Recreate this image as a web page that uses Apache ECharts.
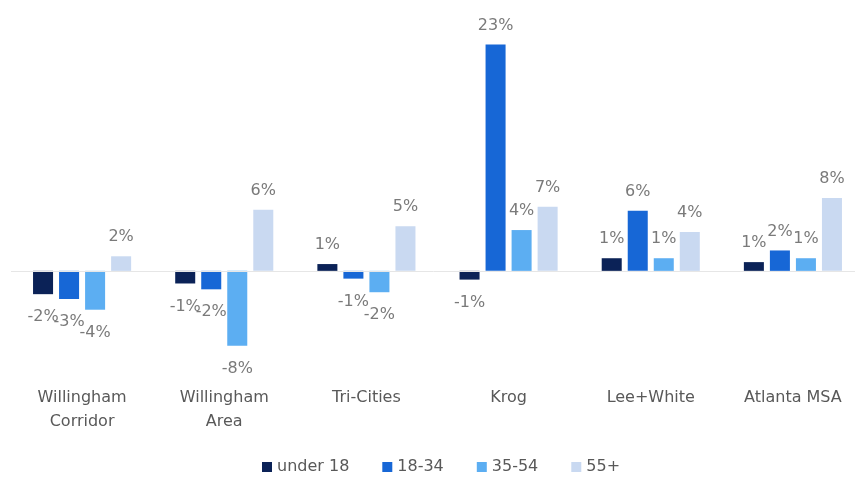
<!DOCTYPE html>
<html>
<head>
<meta charset="utf-8">
<script src="https://cdn.jsdelivr.net/npm/echarts@6/dist/echarts.min.js"></script>
<style>
  html, body { margin: 0; padding: 0; background: #fff; overflow: hidden; }
  #chart { width: 855px; height: 491px; }
</style>
</head>
<body>
<div id="chart"></div>
<script>
// areas along the x axis
const areas = ['Willingham\nCorridor', 'Willingham\nArea', 'Tri-Cities', 'Krog', 'Lee+White', 'Atlanta MSA']

// change by age group, in percent
const under18 = [-2.4, -1.3, 0.7, -0.9, 1.3, 0.9]
const age18to34 = [-2.9, -1.9, -0.8, 23.3, 6.2, 2.1]
const age35to54 = [-4.0, -7.7, -2.2, 4.2, 1.3, 1.3]
const age55plus = [1.5, 6.3, 4.6, 6.6, 4.0, 7.5]

const groupNames = ['under 18', '18-34', '35-54', '55+']
const groupColors = ['#0b2257', '#1767d6', '#5caef2', '#c9d9f1']

const chart = echarts.init(document.getElementById('chart'))

// 负值标签放在柱子下方
function toData (values) {
  return values.map(v => ({
    value: v,
    label: v < 0 ? { position: 'bottom', distance: 15 } : { position: 'top', distance: 11 }
  }))
}

function makeSeries (name, values, i) {
  const s = {
    name: name,
    type: 'bar',
    barGap: '30%',
    barCategoryGap: '31%',
    itemStyle: { color: groupColors[i] },
    label: {
      show: true,
      color: '#7a7a7a',
      fontSize: 16,
      fontFamily: 'DejaVu Sans',
      formatter: p => Math.round(p.value) + '%'
    },
    data: toData(values)
  }
  if (i === 0) {
    // 零线
    s.markLine = {
      silent: true,
      symbol: 'none',
      label: { show: false },
      lineStyle: { color: '#e6e6e6', type: 'solid', width: 1 },
      data: [{ yAxis: 0 }]
    }
  }
  return s
}

const seriesValues = [under18, age18to34, age35to54, age55plus]

const option = {
  animation: false,
  grid: { left: 11, right: -9, top: 28, bottom: 123, outerBoundsMode: 'none' },
  legend: {
    bottom: 11,
    left: 257,
    itemWidth: 10,
    itemHeight: 10,
    itemGap: 33,
    icon: 'rect',
    textStyle: { color: '#595959', fontSize: 16, fontFamily: 'DejaVu Sans' },
    data: groupNames
  },
  xAxis: {
    type: 'category',
    data: areas,
    axisLine: { show: false, onZero: false },
    axisTick: { show: false },
    axisLabel: {
      color: '#595959',
      fontSize: 16,
      fontFamily: 'DejaVu Sans',
      margin: 18,
      lineHeight: 24,
      interval: 0
    }
  },
  yAxis: {
    type: 'value',
    min: -10,
    max: 25,
    show: false
  },
  series: groupNames.map((n, i) => makeSeries(n, seriesValues[i], i))
}

chart.setOption(option)
</script>
</body>
</html>
